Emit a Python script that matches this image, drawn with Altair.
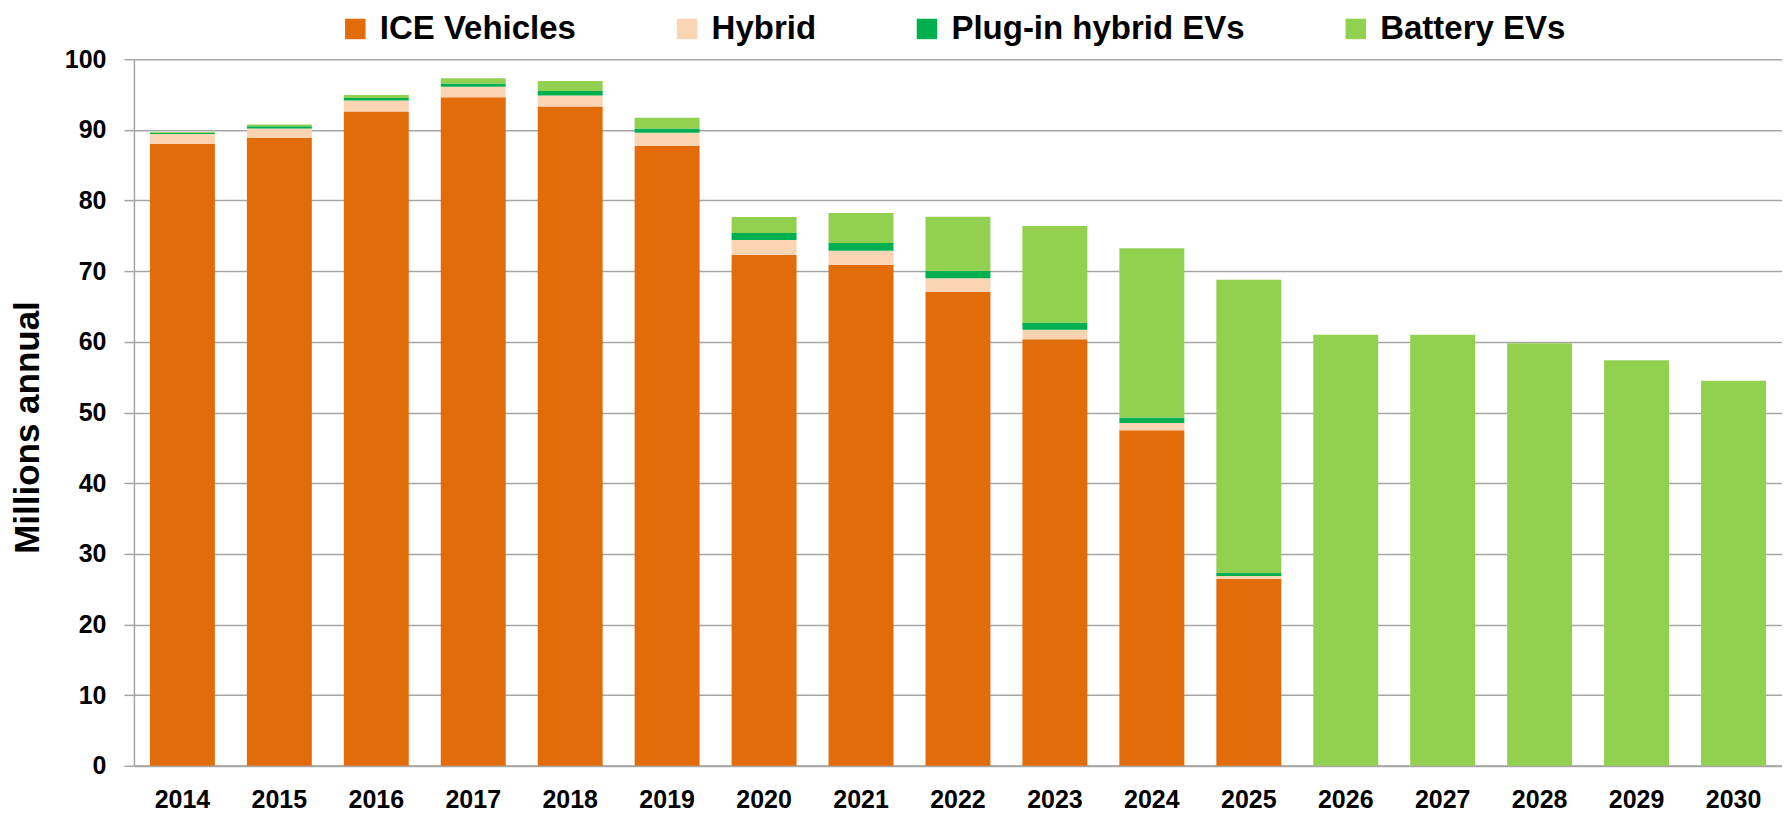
import altair as alt
import pandas as pd

years = [str(y) for y in range(2014, 2031)]
series_names = ["ICE Vehicles", "Hybrid", "Plug-in hybrid EVs", "Battery EVs"]
series_colors = ["#E36C0A", "#FBD4B4", "#00B050", "#92D050"]

ice = [88.0, 88.9, 92.6, 94.6, 93.3, 87.7, 72.3, 70.9, 67.1, 60.35, 47.5, 26.45, 0, 0, 0, 0, 0]
hybrid = [1.4, 1.3, 1.55, 1.5, 1.55, 1.9, 2.1, 2.0, 1.9, 1.35, 1.0, 0.4, 0, 0, 0, 0, 0]
phev = [0.2, 0.3, 0.35, 0.45, 0.65, 0.6, 1.0, 1.1, 1.05, 1.05, 0.8, 0.45, 0, 0, 0, 0, 0]
bev = [0.1, 0.25, 0.45, 0.75, 1.4, 1.5, 2.25, 4.25, 7.65, 13.65, 23.95, 41.5, 61.0, 61.0, 59.8, 57.4, 54.5]

y_ticks = list(range(0, 101, 10))

rows = []
for k, (name, vals) in enumerate(zip(series_names, [ice, hybrid, phev, bev])):
    for yr, v in zip(years, vals):
        rows.append({"year": yr, "series": name, "value": v, "ord": k})
df = pd.DataFrame(rows)

FONT = "Liberation Sans"
GRID = "#A6A6A6"

chart = alt.Chart(df).mark_bar().encode(
    x=alt.X(
        "year:O",
        sort=years,
        scale=alt.Scale(paddingInner=0.33, paddingOuter=0.165),
        axis=alt.Axis(
            title=None, labelAngle=0, ticks=False, grid=False,
            labelFont=FONT, labelFontSize=25, labelFontWeight="bold", labelColor="black",
            labelBaseline="alphabetic", labelPadding=42,
            domainColor=GRID, domainWidth=2,
        ),
    ),
    y=alt.Y(
        "value:Q",
        stack="zero",
        scale=alt.Scale(domain=[0, 100], nice=False),
        axis=alt.Axis(
            values=y_ticks, title="Millions annual",
            tickSize=10, tickColor=GRID, tickWidth=1.5,
            grid=True, gridColor=GRID, gridWidth=1.5,
            domainColor=GRID, domainWidth=1.5,
            labelFont=FONT, labelFontSize=25, labelFontWeight="bold", labelColor="black",
            labelPadding=18,
            titleFont=FONT, titleFontSize=35, titleFontWeight="bold", titleColor="black",
            titleX=-106, titleY=368, titleAngle=270, titleAlign="center", titleBaseline="middle",
        ),
    ),
    color=alt.Color(
        "series:N",
        scale=alt.Scale(domain=series_names, range=series_colors),
        legend=alt.Legend(
            orient="none", legendX=205, legendY=-47, direction="horizontal", columns=4,
            title=None, symbolType="square", symbolSize=420, symbolStrokeWidth=0,
            labelFont=FONT, labelFontSize=33, labelFontWeight="bold", labelColor="black",
            labelLimit=500, labelOffset=8, columnPadding=94,
        ),
    ),
    order=alt.Order("ord:Q", sort="ascending"),
).properties(
    width=1649, height=707,
    autosize=alt.AutoSizeParams(type="none"),
    padding={"left": 126, "top": 51, "right": 0, "bottom": 48},
).configure_view(stroke=None)

chart.save("out.html", embed_options={"renderer": "svg", "actions": False})
